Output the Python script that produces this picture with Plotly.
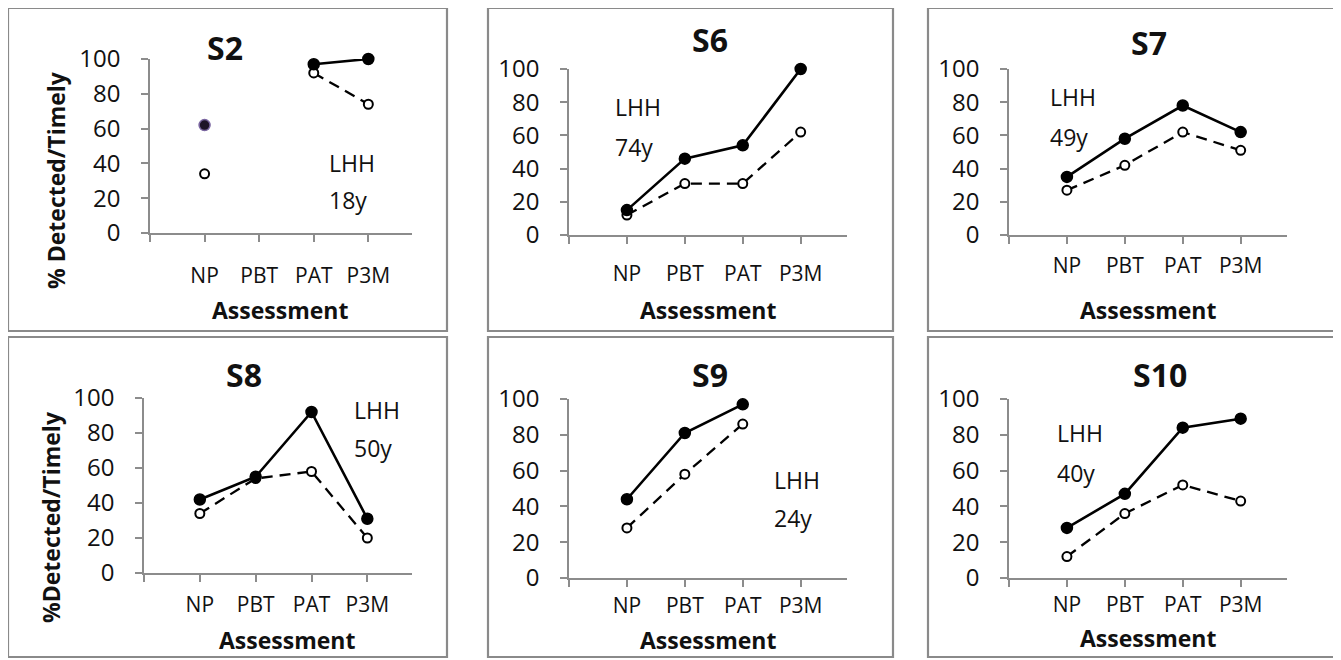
import plotly.graph_objects as go

W, H = 1341, 660
OFF = 8  # page body margin offset of the rendered figure

# ---------------- data ----------------
categories = ["NP", "PBT", "PAT", "P3M"]
panel_names = ["S2", "S6", "S7", "S8", "S9", "S10"]
ages = ["18y", "74y", "49y", "50y", "24y", "40y"]
y_tick_values = [0, 20, 40, 60, 80, 100]

s2_detected = [62, None, 97, 100]
s2_timely = [34, None, 92, 74]
s6_detected = [15, 46, 54, 100]
s6_timely = [12, 31, 31, 62]
s7_detected = [35, 58, 78, 62]
s7_timely = [27, 42, 62, 51]
s8_detected = [42, 55, 92, 31]
s8_timely = [34, 54, 58, 20]
s9_detected = [44, 81, 97, None]
s9_timely = [28, 58, 86, None]
s10_detected = [28, 47, 84, 89]
s10_timely = [12, 36, 52, 43]

detected = [s2_detected, s6_detected, s7_detected, s8_detected, s9_detected, s10_detected]
timely = [s2_timely, s6_timely, s7_timely, s8_timely, s9_timely, s10_timely]

# ---------------- layout geometry (pixels) ----------------
# plot area: x px of x=0, x px of x=4.8, y px of y=0, y px of y=100
plot_px = [
    (150, 412, 233, 59),
    (569, 847, 235, 69),
    (1009, 1287, 235, 69),
    (144, 412, 573, 398),
    (569, 847, 578, 399),
    (1009, 1287, 578, 399),
]
xlabel_standoff = [16, 12, 4, 5, 1, 0]
boxes_px = [
    (8, 8, 447, 331), (488, 8, 893, 331), (928, 8, 1337, 331),
    (8, 337, 447, 657), (488, 337, 893, 657), (928, 337, 1337, 657),
]
title_px = [(225, 48), (710, 39), (1149, 43), (244, 374), (710, 374), (1160, 374)]
xtitle_px = [(280, 310), (708, 310), (1148, 310), (287, 640), (708, 640), (1148, 638)]
lhh_px = [(327, 163, 200), (613, 107, 147), (1048, 97, 137),
          (352, 410, 448), (772, 480, 518), (1055, 433, 473)]
ytitle_px = {0: (56, 180, "% Detected/Timely"), 3: (51, 517, "%Detected/Timely")}

FONT = "Open Sans"
TXT = "#111111"
AX = "#8c8c8c"

def px2x(p):
    return (p - OFF) / W

def px2y(p):
    return 1 - (p - OFF) / H

x_pos = list(range(1, len(categories) + 1))

fig = go.Figure()
layout = dict(
    template="none",
    width=W, height=H, margin=dict(l=0, r=0, t=0, b=0, pad=0, autoexpand=False),
    paper_bgcolor="white", plot_bgcolor="rgba(0,0,0,0)",
    showlegend=False, font=dict(family=FONT, color=TXT),
)

annotations = []
shapes = []

for i in range(6):
    n = i + 1
    xa = "x" if n == 1 else f"x{n}"
    ya = "y" if n == 1 else f"y{n}"
    x0p, x1p, y0p, y1p = plot_px[i]
    layout["xaxis" if n == 1 else f"xaxis{n}"] = dict(
        domain=[px2x(x0p), px2x(x1p)], anchor=ya, range=[0, 4.8],
        tickmode="array", tickvals=[0] + x_pos, ticktext=[""] + categories,
        ticks="outside", ticklen=7, tickwidth=1.5, tickcolor=AX,
        showline=True, linecolor=AX, linewidth=1.5, showgrid=False, zeroline=False,
        tickfont=dict(family=FONT, size=21, color=TXT),
        ticklabelstandoff=xlabel_standoff[i], automargin=False,
        fixedrange=True,
    )
    layout["yaxis" if n == 1 else f"yaxis{n}"] = dict(
        domain=[px2y(y0p), px2y(y1p)], anchor=xa, range=[0, 100],
        tickmode="array", tickvals=y_tick_values,
        ticks="outside", ticklen=7, tickwidth=1.5, tickcolor=AX,
        showline=True, linecolor=AX, linewidth=1.5, showgrid=False, zeroline=False,
        tickfont=dict(family=FONT, size=24, color=TXT), ticklabelstandoff=16,
        automargin=False, fixedrange=True,
    )

    # timely (dashed, open markers)
    fig.add_trace(go.Scatter(
        x=x_pos, y=timely[i], xaxis=xa, yaxis=ya, mode="lines+markers",
        line=dict(color="black", width=2.3, dash="11px,7px"),
        marker=dict(symbol="circle", size=9, color="white",
                    line=dict(color="black", width=2)),
        cliponaxis=False,
    ))
    # detected (solid, filled markers)
    mcolors = ["black"] * len(x_pos)
    lcolors = ["black"] * len(x_pos)
    if i == 0:
        mcolors[0] = "#1e1428"
        lcolors[0] = "#7a66a0"
    fig.add_trace(go.Scatter(
        x=x_pos, y=detected[i], xaxis=xa, yaxis=ya, mode="lines+markers",
        line=dict(color="black", width=2.6),
        marker=dict(symbol="circle", size=11, color=mcolors,
                    line=dict(color=lcolors, width=1.5)),
        cliponaxis=False,
    ))

    bx0, by0, bx1, by1 = boxes_px[i]
    shapes.append(dict(type="rect", xref="paper", yref="paper",
                       x0=px2x(bx0), x1=px2x(bx1), y0=px2y(by0), y1=px2y(by1),
                       line=dict(color="#8a8a8a", width=2.2), layer="below"))

    tx, ty = title_px[i]
    annotations.append(dict(text=f"<b>{panel_names[i]}</b>", x=px2x(tx), y=px2y(ty),
                            xref="paper", yref="paper", showarrow=False,
                            xanchor="center", yanchor="middle",
                            font=dict(family=FONT, size=32, color=TXT)))
    ax_, ay_ = xtitle_px[i]
    annotations.append(dict(text="<b>Assessment</b>", x=px2x(ax_), y=px2y(ay_),
                            xref="paper", yref="paper", showarrow=False,
                            xanchor="center", yanchor="middle",
                            font=dict(family=FONT, size=23, color=TXT)))
    lx, ly1, ly2 = lhh_px[i]
    annotations.append(dict(text="LHH", x=px2x(lx), y=px2y(ly1),
                            xref="paper", yref="paper", showarrow=False,
                            xanchor="left", yanchor="middle",
                            font=dict(family=FONT, size=23, color=TXT)))
    annotations.append(dict(text=ages[i], x=px2x(lx), y=px2y(ly2),
                            xref="paper", yref="paper", showarrow=False,
                            xanchor="left", yanchor="middle",
                            font=dict(family=FONT, size=23, color=TXT)))
    if i in ytitle_px:
        yx, yy, ytxt = ytitle_px[i]
        annotations.append(dict(text=f"<b>{ytxt}</b>", x=px2x(yx), y=px2y(yy),
                                xref="paper", yref="paper", showarrow=False,
                                textangle=-90, xanchor="center", yanchor="middle",
                                font=dict(family=FONT, size=23, color=TXT)))

layout["annotations"] = annotations
layout["shapes"] = shapes
fig.update_layout(**layout)
fig.write_html("out.html")
